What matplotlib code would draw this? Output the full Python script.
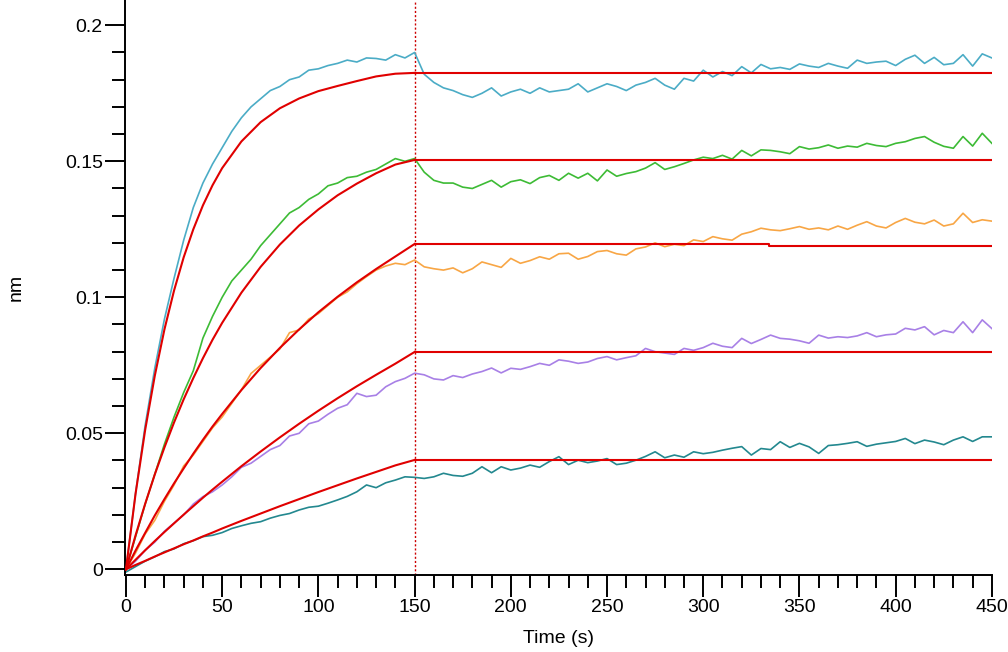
#! /usr/bin/env python
# -*- coding: utf-8 -*-

import numpy as np
import matplotlib
matplotlib.use('Agg')
import matplotlib.pyplot as plt

plt.rcParams['font.family'] = ['Liberation Sans', 'DejaVu Sans']

''' sample times of the measured curves (s) '''
t_raw = np.arange(0, 451, 5)

''' measured response (nm), read from the sensorgram '''
raw_cyan = [0.000, 0.028, 0.053, 0.074, 0.092, 0.107, 0.121, 0.133, 0.142, 0.149,
            0.155, 0.161, 0.166, 0.170, 0.173, 0.176, 0.1775, 0.180, 0.181, 0.1835,
            0.184, 0.1852, 0.186, 0.1872, 0.1865, 0.188, 0.1878, 0.1872, 0.1892, 0.1880,
            0.1900, 0.1820, 0.1790, 0.1770, 0.1760, 0.1745, 0.1735, 0.1750, 0.1770, 0.1740,
            0.1755, 0.1765, 0.1750, 0.1770, 0.1755, 0.1760, 0.1765, 0.1785, 0.1755, 0.1770,
            0.1785, 0.1775, 0.1760, 0.1780, 0.1790, 0.1805, 0.1780, 0.1765, 0.1805, 0.1795,
            0.1835, 0.1810, 0.1830, 0.1815, 0.1848, 0.1825, 0.1856, 0.1840, 0.1845, 0.1838,
            0.1858, 0.1850, 0.1845, 0.1860, 0.1850, 0.1842, 0.1872, 0.1860, 0.1865, 0.1868,
            0.1852, 0.1875, 0.1890, 0.1860, 0.1882, 0.1855, 0.1860, 0.1892, 0.1850, 0.1895,
            0.1880]
raw_green = [0.000, 0.012, 0.024, 0.035, 0.046, 0.056, 0.065, 0.073, 0.085, 0.093,
             0.100, 0.106, 0.110, 0.114, 0.119, 0.123, 0.127, 0.131, 0.133, 0.136,
             0.138, 0.141, 0.142, 0.144, 0.1445, 0.146, 0.147, 0.149, 0.151, 0.150,
             0.151, 0.146, 0.143, 0.142, 0.142, 0.1405, 0.140, 0.1415, 0.1430, 0.1405,
             0.1425, 0.1432, 0.1418, 0.1440, 0.1448, 0.1430, 0.1456, 0.1438, 0.1456, 0.1428,
             0.1468, 0.1445, 0.1455, 0.1462, 0.1475, 0.1495, 0.1470, 0.1480, 0.1492, 0.1505,
             0.1515, 0.1510, 0.1522, 0.1508, 0.1540, 0.1520, 0.1542, 0.1540, 0.1535, 0.1528,
             0.1554, 0.1545, 0.1550, 0.1560, 0.1548, 0.1556, 0.1552, 0.1566, 0.1558, 0.1554,
             0.1566, 0.1572, 0.1584, 0.1591, 0.1570, 0.1555, 0.1548, 0.1591, 0.1556, 0.1603,
             0.1566]
raw_orange = [0.000, 0.006, 0.013, 0.018, 0.025, 0.031, 0.038, 0.042, 0.047, 0.052,
              0.056, 0.061, 0.066, 0.072, 0.075, 0.078, 0.081, 0.087, 0.088, 0.092,
              0.094, 0.097, 0.100, 0.102, 0.105, 0.1076, 0.110, 0.1115, 0.1125, 0.1120,
              0.1137, 0.1112, 0.1105, 0.1100, 0.1108, 0.1090, 0.1105, 0.1130, 0.1120, 0.1110,
              0.1143, 0.1125, 0.1135, 0.1149, 0.1140, 0.1160, 0.1162, 0.1140, 0.1150, 0.1168,
              0.1172, 0.1160, 0.1155, 0.1178, 0.1185, 0.1200, 0.1186, 0.1195, 0.1190, 0.1211,
              0.1205, 0.1223, 0.1215, 0.1210, 0.1232, 0.1241, 0.1254, 0.1248, 0.1245, 0.1252,
              0.1260, 0.1250, 0.1255, 0.1248, 0.1262, 0.1250, 0.1265, 0.1278, 0.1262, 0.1255,
              0.1275, 0.1290, 0.1276, 0.1270, 0.1284, 0.1262, 0.1270, 0.1309, 0.1275, 0.1285,
              0.1280]
raw_purple = [0.000, 0.003, 0.007, 0.010, 0.014, 0.017, 0.020, 0.024, 0.0267, 0.0285,
              0.031, 0.034, 0.0375, 0.039, 0.0415, 0.044, 0.0455, 0.049, 0.050, 0.0535,
              0.0545, 0.057, 0.0592, 0.0605, 0.0647, 0.0635, 0.0640, 0.0671, 0.0690, 0.0702,
              0.0721, 0.0715, 0.0700, 0.0696, 0.0712, 0.0705, 0.0718, 0.0727, 0.0740, 0.0722,
              0.0739, 0.0735, 0.0745, 0.0757, 0.0750, 0.0770, 0.0765, 0.0757, 0.0762, 0.0775,
              0.0782, 0.0770, 0.0778, 0.0785, 0.0812, 0.0800, 0.0795, 0.0790, 0.0812, 0.0805,
              0.0815, 0.0831, 0.0820, 0.0815, 0.0849, 0.0830, 0.0845, 0.0861, 0.0849, 0.0846,
              0.0840, 0.0831, 0.0861, 0.0850, 0.0855, 0.0852, 0.0858, 0.0870, 0.0855, 0.0862,
              0.0865, 0.0886, 0.0880, 0.0892, 0.0862, 0.0878, 0.0870, 0.0910, 0.0870, 0.0917,
              0.0885]
raw_teal = [-0.0010, 0.0010, 0.0030, 0.0046, 0.0065, 0.0075, 0.0094, 0.0105, 0.0120, 0.0125,
            0.0135, 0.0150, 0.0160, 0.0169, 0.0175, 0.0188, 0.0198, 0.0205, 0.0218, 0.0228,
            0.0232, 0.0243, 0.0255, 0.0268, 0.0285, 0.0310, 0.0300, 0.0318, 0.0328, 0.0340,
            0.0338, 0.0334, 0.0340, 0.0353, 0.0345, 0.0342, 0.0353, 0.0377, 0.0355, 0.0377,
            0.0365, 0.0372, 0.0383, 0.0375, 0.0396, 0.0414, 0.0385, 0.0401, 0.0392, 0.0398,
            0.0407, 0.0385, 0.0390, 0.0401, 0.0415, 0.0432, 0.0410, 0.0420, 0.0412, 0.0432,
            0.0425, 0.0430, 0.0438, 0.0445, 0.0451, 0.0420, 0.0444, 0.0440, 0.0469, 0.0448,
            0.0463, 0.0450, 0.0426, 0.0455, 0.0458, 0.0463, 0.0469, 0.0452, 0.0460, 0.0465,
            0.0470, 0.0481, 0.0462, 0.0475, 0.0468, 0.0458, 0.0475, 0.0487, 0.0470, 0.0487,
            0.0487]

''' fitted curves: association phase '''
t_fit = [0, 5, 10, 15, 20, 25, 30, 35, 40, 45, 50, 60, 70, 80, 90, 100, 110, 120, 130, 140, 150]
fit_cyan = [0.0, 0.0278, 0.0513, 0.0712, 0.0882, 0.1025, 0.1147, 0.1250, 0.1338, 0.1412,
            0.1475, 0.1573, 0.1644, 0.1695, 0.1731, 0.1758, 0.1777, 0.1795, 0.1812, 0.1822, 0.1825]
fit_green = [0.0, 0.0125, 0.0241, 0.0349, 0.0448, 0.0540, 0.0625, 0.0703, 0.0776, 0.0844,
             0.0906, 0.1017, 0.1112, 0.1194, 0.1264, 0.1323, 0.1375, 0.1418, 0.1456, 0.1488, 0.1505]
fit_orange = [0.0, 0.0069, 0.0134, 0.0198, 0.0258, 0.0316, 0.0371, 0.0425, 0.0476, 0.0525,
              0.0571, 0.0659, 0.0740, 0.0814, 0.0882, 0.0945, 0.1002, 0.1055, 0.1104, 0.1150, 0.1196]
fit_purple = [0.0, 0.0035, 0.0070, 0.0104, 0.0137, 0.0169, 0.0201, 0.0232, 0.0263, 0.0293,
              0.0322, 0.0379, 0.0433, 0.0485, 0.0535, 0.0583, 0.0629, 0.0673, 0.0715, 0.0756, 0.0799]
fit_teal = [0.0, 0.0016, 0.0031, 0.0047, 0.0062, 0.0077, 0.0092, 0.0106, 0.0121, 0.0135,
            0.0150, 0.0178, 0.0205, 0.0232, 0.0258, 0.0284, 0.0309, 0.0334, 0.0358, 0.0382, 0.0402]

''' fitted curves: dissociation phase '''
t_diss = [150, 334, 334, 450]
diss_cyan = [0.1825, 0.1825, 0.1825, 0.1825]
diss_green = [0.1505, 0.1505, 0.1505, 0.1505]
diss_orange = [0.1196, 0.1196, 0.1189, 0.1189]
diss_purple = [0.0799, 0.0799, 0.0799, 0.0799]
diss_teal = [0.0402, 0.0402, 0.0402, 0.0402]

raw_curves = [raw_cyan, raw_green, raw_orange, raw_purple, raw_teal]
fit_curves = [fit_cyan, fit_green, fit_orange, fit_purple, fit_teal]
diss_curves = [diss_cyan, diss_green, diss_orange, diss_purple, diss_teal]
colors = ['#4BACC6', '#3DBB35', '#F8A645', '#A880E6', '#23888F']
fit_color = '#E00000'


def main():
    fig = plt.figure(figsize=(10.08, 6.52), dpi=100)
    axe = fig.add_axes([0.124, 0.1181, 0.860, 0.8819])

    ''' measured data '''
    for y, c in zip(raw_curves, colors):
        axe.plot(t_raw, y, color=c, lw=1.2, zorder=2)

    ''' fits '''
    for yf, yd in zip(fit_curves, diss_curves):
        axe.plot(t_fit, yf, color=fit_color, lw=1.5, zorder=3)
        axe.plot(t_diss, yd, color=fit_color, lw=1.5, zorder=3)

    ''' association / dissociation boundary '''
    axe.axvline(150, color='#CC0000', lw=1.0, ls=(0, (1.5, 1.5)), zorder=1)

    axe.set_xlim(-0.5, 450)
    axe.set_ylim(-0.0021, 0.2093)
    axe.set_xticks([0, 50, 100, 150, 200, 250, 300, 350, 400, 450])
    axe.set_xticks(np.arange(0, 451, 10), minor=True)
    axe.set_yticks([0, 0.05, 0.1, 0.15, 0.2])
    axe.set_yticklabels(['0', '0.05', '0.1', '0.15', '0.2'])
    axe.set_yticks(np.arange(0, 0.205, 0.01), minor=True)

    axe.spines['top'].set_visible(False)
    axe.spines['right'].set_visible(False)
    axe.spines['left'].set_linewidth(1.4)
    axe.spines['bottom'].set_linewidth(1.4)
    axe.tick_params(axis='both', which='both', direction='out', width=1.4, labelsize=14)
    axe.tick_params(axis='y', which='major', length=14.5, pad=1.5)
    axe.tick_params(axis='y', which='minor', length=9.5)
    axe.tick_params(axis='x', which='major', length=15.5, pad=2)
    axe.tick_params(axis='x', which='minor', length=9.5)

    axe.set_xlabel('Time (s)', fontsize=14)
    axe.set_ylabel('nm', fontsize=14)
    axe.xaxis.set_label_coords(0.5, -0.095)
    axe.yaxis.set_label_coords(-0.116, 0.5)

    plt.savefig('out.png', dpi=100)
    return 0


if __name__ == '__main__':
    main()
